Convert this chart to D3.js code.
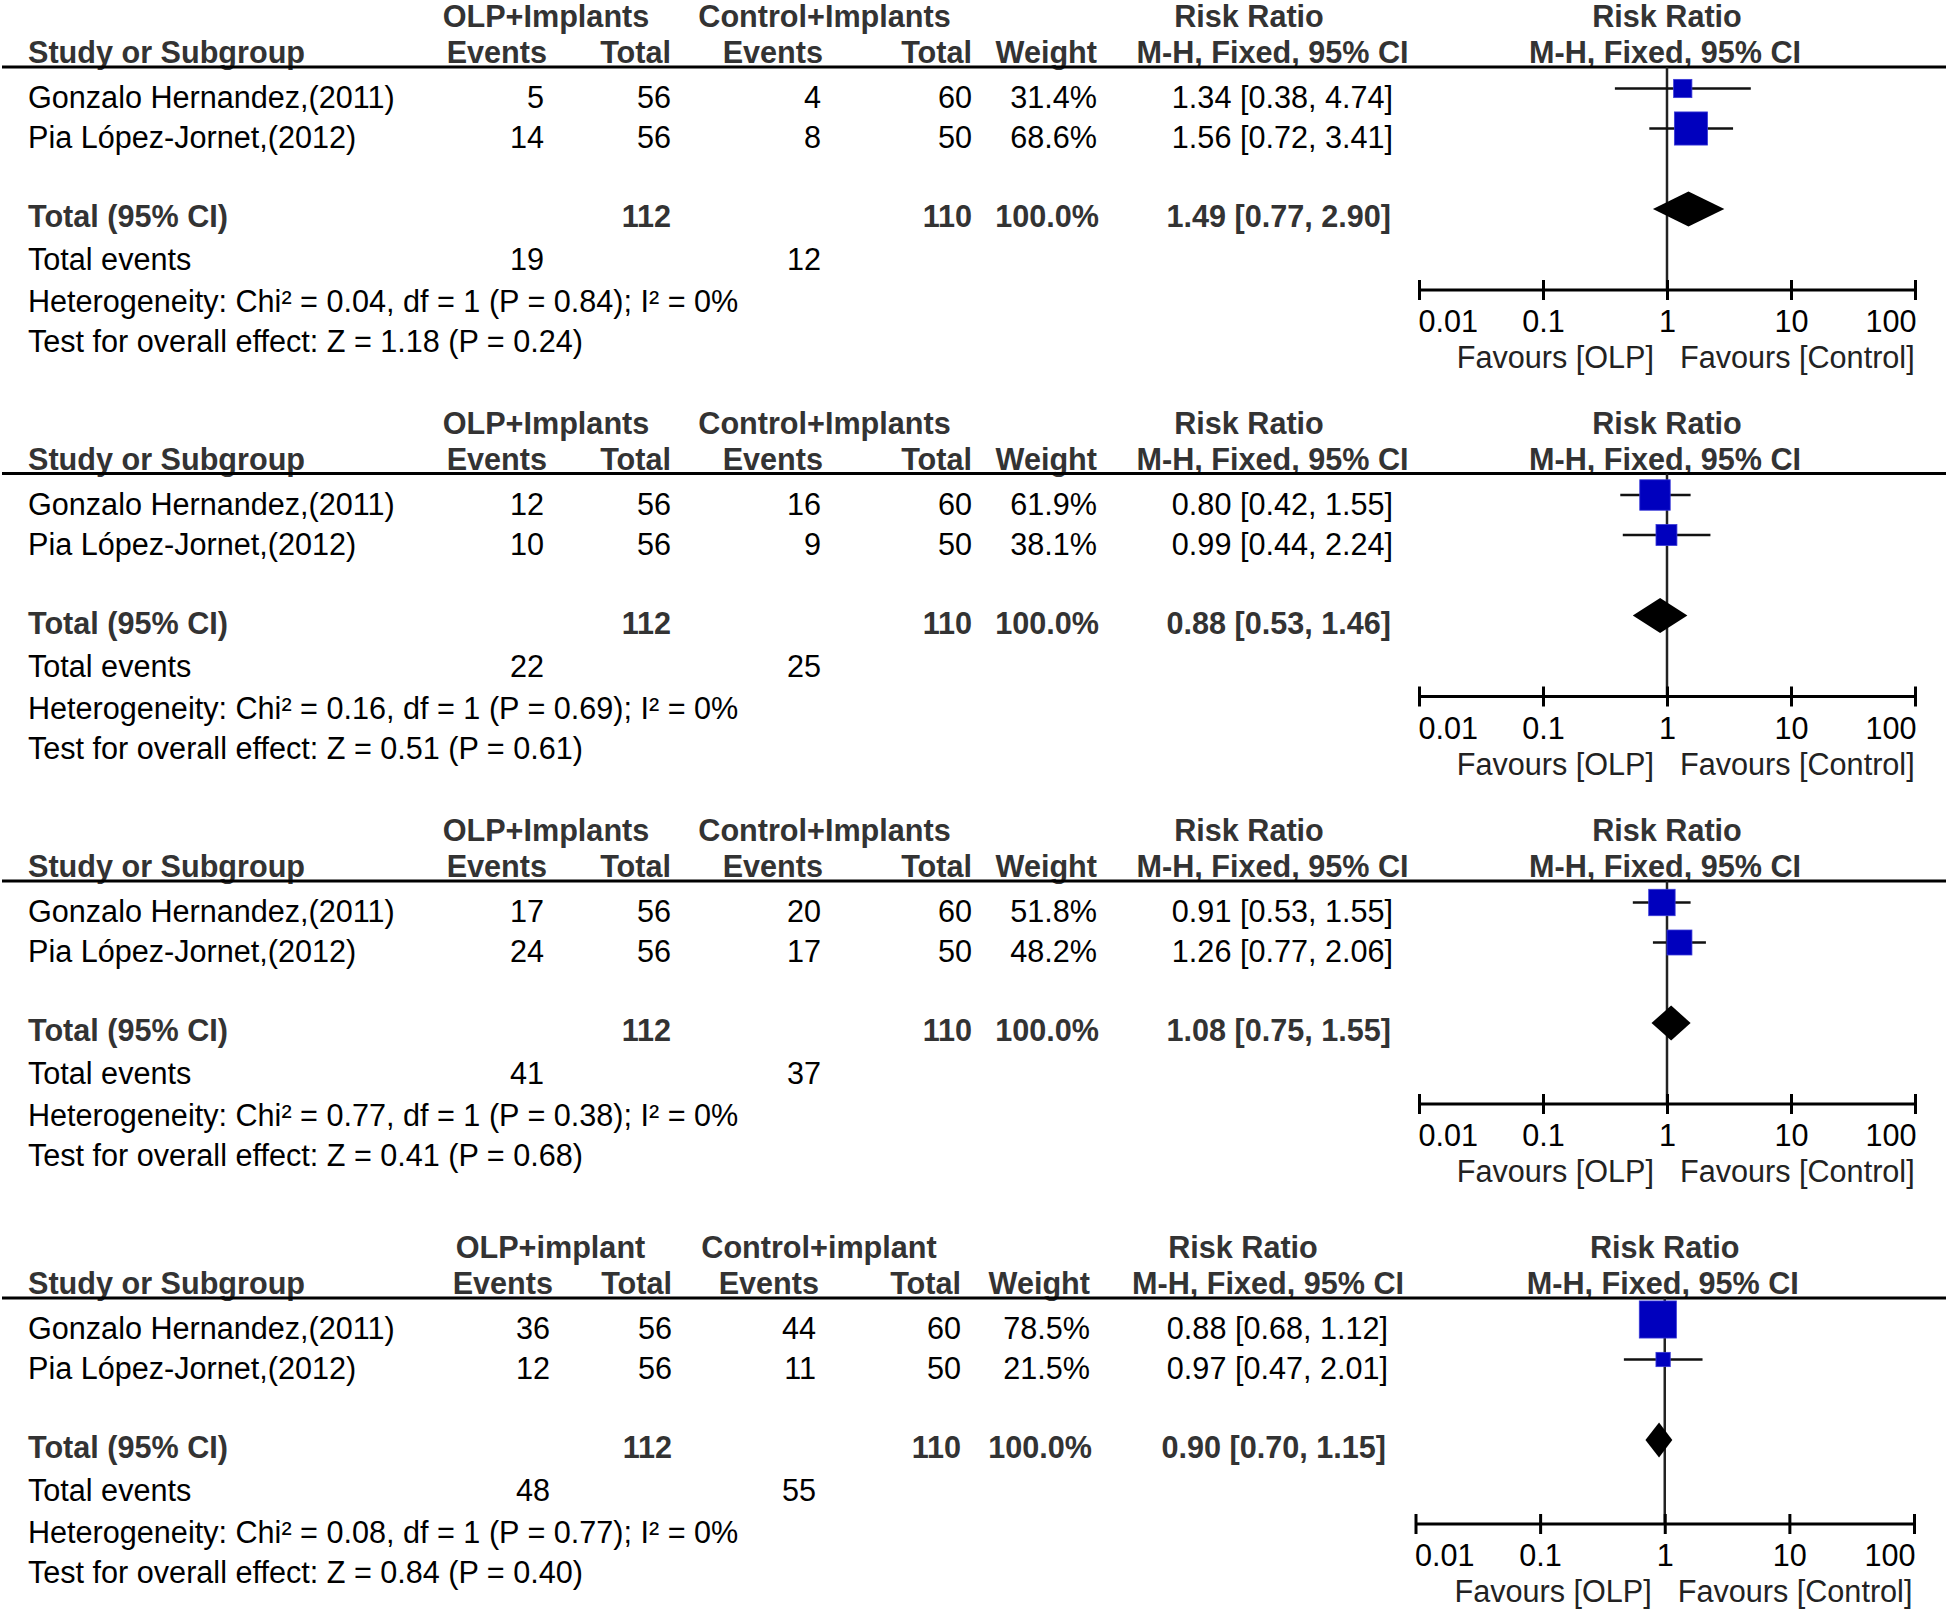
<!DOCTYPE html>
<html><head><meta charset="utf-8">
<script src="https://cdn.jsdelivr.net/npm/d3@7"></script>
<style>body{margin:0;background:#fff}svg{display:block}</style>
</head><body>
<svg id="chart" width="1946" height="1613"></svg>
<script>
// ---------- data ----------
const studies = ["Gonzalo Hernandez,(2011)", "Pia López-Jornet,(2012)"];
const expGroupNames = ["OLP+Implants", "OLP+Implants", "OLP+Implants", "OLP+implant"];
const ctrlGroupNames = ["Control+Implants", "Control+Implants", "Control+Implants", "Control+implant"];
const expEvents = [[5, 14], [12, 10], [17, 24], [36, 12]];
const expTotals = [[56, 56], [56, 56], [56, 56], [56, 56]];
const ctrlEvents = [[4, 8], [16, 9], [20, 17], [44, 11]];
const ctrlTotals = [[60, 50], [60, 50], [60, 50], [60, 50]];
const weights = [[31.4, 68.6], [61.9, 38.1], [51.8, 48.2], [78.5, 21.5]];
const rr = [[1.34, 1.56], [0.80, 0.99], [0.91, 1.26], [0.88, 0.97]];
const rrLow = [[0.38, 0.72], [0.42, 0.44], [0.53, 0.77], [0.68, 0.47]];
const rrHigh = [[4.74, 3.41], [1.55, 2.24], [1.55, 2.06], [1.12, 2.01]];
const totalExpN = [112, 112, 112, 112];
const totalCtrlN = [110, 110, 110, 110];
const totalRR = [1.49, 0.88, 1.08, 0.90];
const totalLow = [0.77, 0.53, 0.75, 0.70];
const totalHigh = [2.90, 1.46, 1.55, 1.15];
const totalEventsExp = [19, 22, 41, 48];
const totalEventsCtrl = [12, 25, 37, 55];
const chi2 = ["0.04", "0.16", "0.77", "0.08"];
const chiP = ["0.84", "0.69", "0.38", "0.77"];
const i2 = ["0", "0", "0", "0"];
const zVal = ["1.18", "0.51", "0.41", "0.84"];
const zP = ["0.24", "0.61", "0.68", "0.40"];
const tickValues = [0.01, 0.1, 1, 10, 100];
const tickLabels = ["0.01", "0.1", "1", "10", "100"];
const favourLabels = ["Favours [OLP]", "Favours [Control]"];

// ---------- layout (positions only) ----------
const base = {expC:546, evR:544, evHR:547, totR:671, ctrlC:824.5, cevR:821, cevHR:823, ctotR:972,
  wR:1097, rrC:1249, mhC:1272.5, rrR:1393, x0:1419, x1:1915, axisY:290};
const layouts = [
  Object.assign({}, base, {top:0}),
  Object.assign({}, base, {top:406.5}),
  Object.assign({}, base, {top:814}),
  Object.assign({}, base, {top:1231, expC:550.5, evR:550, evHR:553, totR:672, ctrlC:819, cevR:816, cevHR:819,
    ctotR:961, wR:1090, rrC:1243, mhC:1268, rrR:1388, x0:1415.5, x1:1914, axisY:293})
];
const rowY = {h1:27, h2:63, line:67, r:[108, 148], total:227, tev:270, het:312, test:352};
const FONT = "'Liberation Sans', Arial, sans-serif";
const FS = 30.6;
const boxSize = d3.scaleLinear().domain([0, 100]).range([5.7, 45.7]);

const svg = d3.select("#chart");

function txt(g, x, y, s, anchor, bold, fill) {
  g.append("text").attr("x", x).attr("y", y).attr("text-anchor", anchor || "start")
    .attr("font-family", FONT).attr("font-size", FS)
    .attr("font-weight", bold ? "bold" : "normal")
    .attr("fill", fill || (bold ? "#333" : "#000")).text(s);
}

layouts.forEach((L, p) => {
  const g = svg.append("g").attr("transform", `translate(0,${L.top})`);
  const x = d3.scaleLog().domain([0.01, 100]).range([L.x0, L.x1]);
  const x1 = x(1);

  // headers
  txt(g, L.expC, rowY.h1, expGroupNames[p], "middle", true);
  txt(g, L.ctrlC, rowY.h1, ctrlGroupNames[p], "middle", true);
  txt(g, L.rrC, rowY.h1, "Risk Ratio", "middle", true);
  txt(g, x1, rowY.h1, "Risk Ratio", "middle", true);
  txt(g, 28, rowY.h2, "Study or Subgroup", "start", true);
  txt(g, L.evHR, rowY.h2, "Events", "end", true);
  txt(g, L.totR, rowY.h2, "Total", "end", true);
  txt(g, L.cevHR, rowY.h2, "Events", "end", true);
  txt(g, L.ctotR, rowY.h2, "Total", "end", true);
  txt(g, L.wR, rowY.h2, "Weight", "end", true);
  txt(g, L.mhC, rowY.h2, "M-H, Fixed, 95% CI", "middle", true);
  txt(g, x1 - 2, rowY.h2, "M-H, Fixed, 95% CI", "middle", true);

  // header rule
  g.append("line").attr("x1", 2).attr("x2", 1946).attr("y1", rowY.line).attr("y2", rowY.line)
    .attr("stroke", "#000").attr("stroke-width", 3.2);

  // null line
  g.append("line").attr("x1", x1).attr("x2", x1).attr("y1", rowY.line).attr("y2", L.axisY)
    .attr("stroke", "#222").attr("stroke-width", 2.5);

  // study rows
  studies.forEach((s, i) => {
    const y = rowY.r[i];
    txt(g, 28, y, s, "start", false);
    txt(g, L.evR, y, String(expEvents[p][i]), "end", false);
    txt(g, L.totR, y, String(expTotals[p][i]), "end", false);
    txt(g, L.cevR, y, String(ctrlEvents[p][i]), "end", false);
    txt(g, L.ctotR, y, String(ctrlTotals[p][i]), "end", false);
    txt(g, L.wR, y, weights[p][i].toFixed(1) + "%", "end", false);
    txt(g, L.rrR, y, `${rr[p][i].toFixed(2)} [${rrLow[p][i].toFixed(2)}, ${rrHigh[p][i].toFixed(2)}]`, "end", false);

    const my = y - 19.5;
    g.append("line").attr("x1", x(rrLow[p][i])).attr("x2", x(rrHigh[p][i]))
      .attr("y1", my).attr("y2", my).attr("stroke", "#111").attr("stroke-width", 2.5);
    const sz = boxSize(weights[p][i]);
    g.append("rect").attr("x", x(rr[p][i]) - sz / 2).attr("y", my - sz / 2)
      .attr("width", sz).attr("height", sz).attr("fill", "#0000BE")
      .attr("stroke", "#3a3ad8").attr("stroke-width", 0.8);
  });

  // total row
  txt(g, 28, rowY.total, "Total (95% CI)", "start", true);
  txt(g, L.totR, rowY.total, String(totalExpN[p]), "end", true);
  txt(g, L.ctotR, rowY.total, String(totalCtrlN[p]), "end", true);
  txt(g, L.wR + 2, rowY.total, "100.0%", "end", true);
  txt(g, L.rrR - 2, rowY.total, `${totalRR[p].toFixed(2)} [${totalLow[p].toFixed(2)}, ${totalHigh[p].toFixed(2)}]`, "end", true);
  const dy = rowY.total - 18, dh = 17.5;
  g.append("path").attr("d",
    `M${x(totalLow[p])},${dy} L${x(totalRR[p])},${dy - dh} L${x(totalHigh[p])},${dy} L${x(totalRR[p])},${dy + dh} Z`)
    .attr("fill", "#000");

  txt(g, 28, rowY.tev, "Total events", "start", false);
  txt(g, L.evR, rowY.tev, String(totalEventsExp[p]), "end", false);
  txt(g, L.cevR, rowY.tev, String(totalEventsCtrl[p]), "end", false);
  txt(g, 28, rowY.het, `Heterogeneity: Chi² = ${chi2[p]}, df = 1 (P = ${chiP[p]}); I² = ${i2[p]}%`, "start", false);
  txt(g, 28, rowY.test, `Test for overall effect: Z = ${zVal[p]} (P = ${zP[p]})`, "start", false);

  // axis
  const axis = d3.axisBottom(x).tickValues(tickValues).tickFormat((d, i) => tickLabels[i]).tickSize(10).tickSizeOuter(0);
  const ag = g.append("g").attr("transform", `translate(0,${L.axisY})`).call(axis);
  ag.select(".domain").attr("stroke", "#000").attr("stroke-width", 3).attr("d", `M${L.x0},0H${L.x1}`);
  ag.selectAll(".tick line").attr("y1", -10).attr("y2", 10).attr("stroke", "#000").attr("stroke-width", 3);
  ag.selectAll(".tick text").attr("font-family", FONT).attr("font-size", FS).attr("fill", "#000")
    .attr("y", 42).attr("dy", 0)
    .attr("text-anchor", (d, i) => i === 0 ? "start" : (i === tickValues.length - 1 ? "end" : "middle"))
    .attr("dx", (d, i) => i === 0 ? -1 : (i === tickValues.length - 1 ? 1 : 0));

  txt(g, x1 - 13, L.axisY + 78, favourLabels[0], "end", false, "#222");
  txt(g, x1 + 13, L.axisY + 78, favourLabels[1], "start", false, "#222");
});
</script>
</body></html>
